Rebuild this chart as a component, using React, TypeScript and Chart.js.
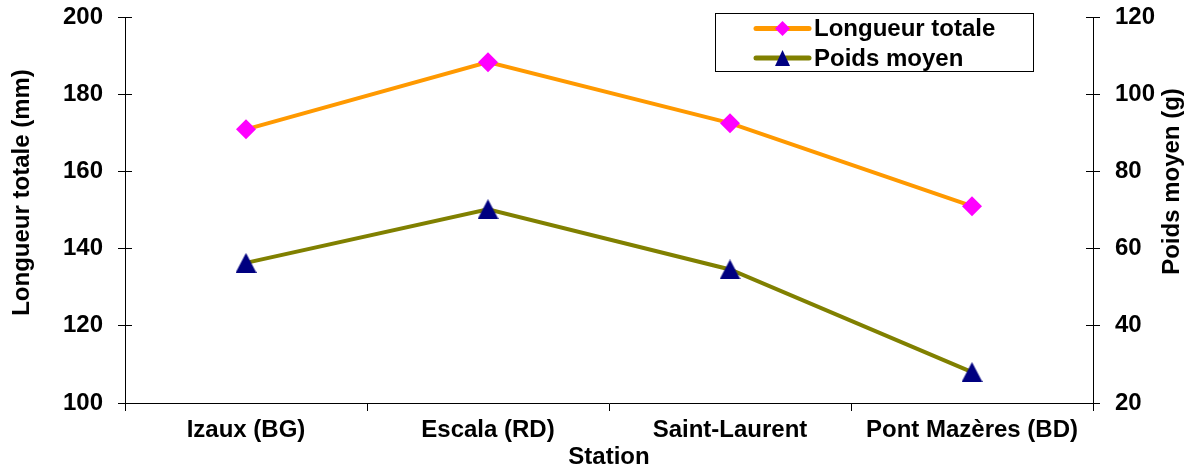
import React, { useEffect, useRef } from 'react';
import { Chart, registerables } from 'chart.js';

Chart.register(...registerables);

const stations = ['Izaux (BG)', 'Escala (RD)', 'Saint-Laurent', 'Pont Mazères (BD)'];
const longueurTotale = [170.9, 188.3, 172.5, 151.0];
const poidsMoyen = [56.3, 70.2, 54.6, 28.0];
const seriesNames = ['Longueur totale', 'Poids moyen'];
const xTitle = 'Station';
const leftTitle = 'Longueur totale (mm)';
const rightTitle = 'Poids moyen (g)';
const leftRange = [100, 200, 20];
const rightRange = [20, 120, 20];

const FONT = "'Liberation Sans', Arial, sans-serif";
const ORANGE = '#FF9900';
const MAGENTA = '#FF00FF';
const OLIVE = '#808000';
const NAVY = '#000080';

function makeTriangle(w: number, h: number, color: string) {
  const c = document.createElement('canvas');
  c.width = w;
  c.height = h;
  const ctx = c.getContext('2d')!;
  ctx.fillStyle = color;
  ctx.beginPath();
  ctx.moveTo(w / 2, 0);
  ctx.lineTo(w, h);
  ctx.lineTo(0, h);
  ctx.closePath();
  ctx.fill();
  return c;
}

const al = (p: number) => Math.round(p - 0.5) + 0.5;

const decoPlugin = {
  id: 'deco',
  afterDraw(chart: any) {
    const ctx = chart.ctx;
    const { left, right } = chart.chartArea;
    ctx.save();
    // inner tick marks (crossing ticks)
    ctx.strokeStyle = '#000';
    ctx.lineWidth = 1;
    const ys = chart.scales.y;
    ys.ticks.forEach((t: any) => {
      const p = al(ys.getPixelForValue(t.value));
      ctx.beginPath();
      ctx.moveTo(left, p);
      ctx.lineTo(left + 7, p);
      ctx.stroke();
    });
    const y1 = chart.scales.y1;
    y1.ticks.forEach((t: any) => {
      const p = al(y1.getPixelForValue(t.value));
      ctx.beginPath();
      ctx.moveTo(right - 7, p);
      ctx.lineTo(right, p);
      ctx.stroke();
    });

    // axis titles (vertical)
    ctx.fillStyle = '#000';
    ctx.font = `bold 24px ${FONT}`;
    ctx.textAlign = 'center';
    ctx.textBaseline = 'alphabetic';
    ctx.save();
    ctx.translate(29, 192.5);
    ctx.rotate(-Math.PI / 2);
    ctx.fillText(leftTitle, 0, 0);
    ctx.restore();
    ctx.save();
    ctx.translate(1179, 181.5);
    ctx.rotate(-Math.PI / 2);
    ctx.fillText(rightTitle, 0, 0);
    ctx.restore();

    // legend
    ctx.fillStyle = '#fff';
    ctx.fillRect(716, 14, 318, 57);
    ctx.strokeStyle = '#000';
    ctx.strokeRect(715.5, 13.5, 318, 58);
    const rows = [28.5, 58];
    const ds = chart.data.datasets;
    rows.forEach((ry, i) => {
      ctx.strokeStyle = ds[i].borderColor;
      ctx.lineWidth = 5;
      ctx.lineCap = 'round';
      ctx.beginPath();
      ctx.moveTo(756, ry);
      ctx.lineTo(809, ry);
      ctx.stroke();
      const cx = 782.5;
      if (i === 0) {
        ctx.fillStyle = MAGENTA;
        ctx.beginPath();
        ctx.moveTo(cx - 7.5, ry);
        ctx.lineTo(cx, ry - 7.5);
        ctx.lineTo(cx + 7.5, ry);
        ctx.lineTo(cx, ry + 7.5);
        ctx.closePath();
        ctx.fill();
      } else {
        ctx.fillStyle = NAVY;
        ctx.beginPath();
        ctx.moveTo(cx, ry - 8);
        ctx.lineTo(cx + 7.5, ry + 8);
        ctx.lineTo(cx - 7.5, ry + 8);
        ctx.closePath();
        ctx.fill();
      }
      ctx.fillStyle = '#000';
      ctx.font = `bold 24px ${FONT}`;
      ctx.textAlign = 'left';
      ctx.textBaseline = 'middle';
      ctx.fillText(ds[i].label, 814, ry + 1);
    });
    ctx.restore();
  },
};

export default function App() {
  const ref = useRef<HTMLCanvasElement>(null);
  useEffect(() => {
    if (!ref.current) return;
    const tri = makeTriangle(21, 20, NAVY);
    const tickFont = { family: FONT, size: 24, weight: 'bold' as const };
    const chart = new Chart(ref.current, {
      type: 'line',
      data: {
        labels: stations,
        datasets: [
          {
            label: seriesNames[0],
            data: longueurTotale,
            yAxisID: 'y',
            borderColor: ORANGE,
            backgroundColor: MAGENTA,
            borderWidth: 4,
            pointStyle: 'rectRot',
            pointRadius: 10,
            pointBorderWidth: 0,
            pointBackgroundColor: MAGENTA,
            pointBorderColor: MAGENTA,
            tension: 0,
          },
          {
            label: seriesNames[1],
            data: poidsMoyen,
            yAxisID: 'y1',
            borderColor: OLIVE,
            backgroundColor: NAVY,
            borderWidth: 4,
            pointStyle: tri as any,
            pointRadius: 10,
            tension: 0,
          },
        ],
      },
      options: {
        responsive: false,
        animation: false,
        devicePixelRatio: 1,
        layout: { padding: { top: 17, left: 0, right: 0, bottom: 0 } },
        plugins: { legend: { display: false }, tooltip: { enabled: false } },
        scales: {
          x: {
            type: 'category',
            offset: true,
            grid: { offset: true, drawOnChartArea: false, tickLength: 8, color: '#000' },
            border: { color: '#000', width: 1 },
            ticks: { font: tickFont, color: '#000', padding: 5, maxRotation: 0, autoSkip: false },
            title: { display: true, text: xTitle, font: tickFont, color: '#000', padding: { top: 0, bottom: 0 } },
            afterFit: (s: any) => { s.height = 69; s.paddingLeft = 0; s.paddingRight = 0; },
          },
          y: {
            position: 'left',
            min: leftRange[0],
            max: leftRange[1],
            ticks: { stepSize: leftRange[2], font: tickFont, color: '#000', padding: 15 },
            grid: { drawOnChartArea: false, tickLength: 7, color: '#000' },
            border: { color: '#000', width: 1 },
            afterFit: (s: any) => { s.width = 125; s.paddingTop = 0; s.paddingBottom = 0; },
          },
          y1: {
            position: 'right',
            min: rightRange[0],
            max: rightRange[1],
            ticks: { stepSize: rightRange[2], font: tickFont, color: '#000', padding: 15 },
            grid: { drawOnChartArea: false, tickLength: 7, color: '#000' },
            border: { color: '#000', width: 1 },
            afterFit: (s: any) => { s.width = 98; s.paddingTop = 0; s.paddingBottom = 0; },
          },
        },
      },
      plugins: [decoPlugin],
    });
    return () => chart.destroy();
  }, []);
  return (
    <div style={{ position: 'fixed', left: 0, top: 0, width: 1191, height: 472, background: '#fff' }}>
      <canvas ref={ref} width={1191} height={472} style={{ width: 1191, height: 472, display: 'block' }} />
    </div>
  );
}
